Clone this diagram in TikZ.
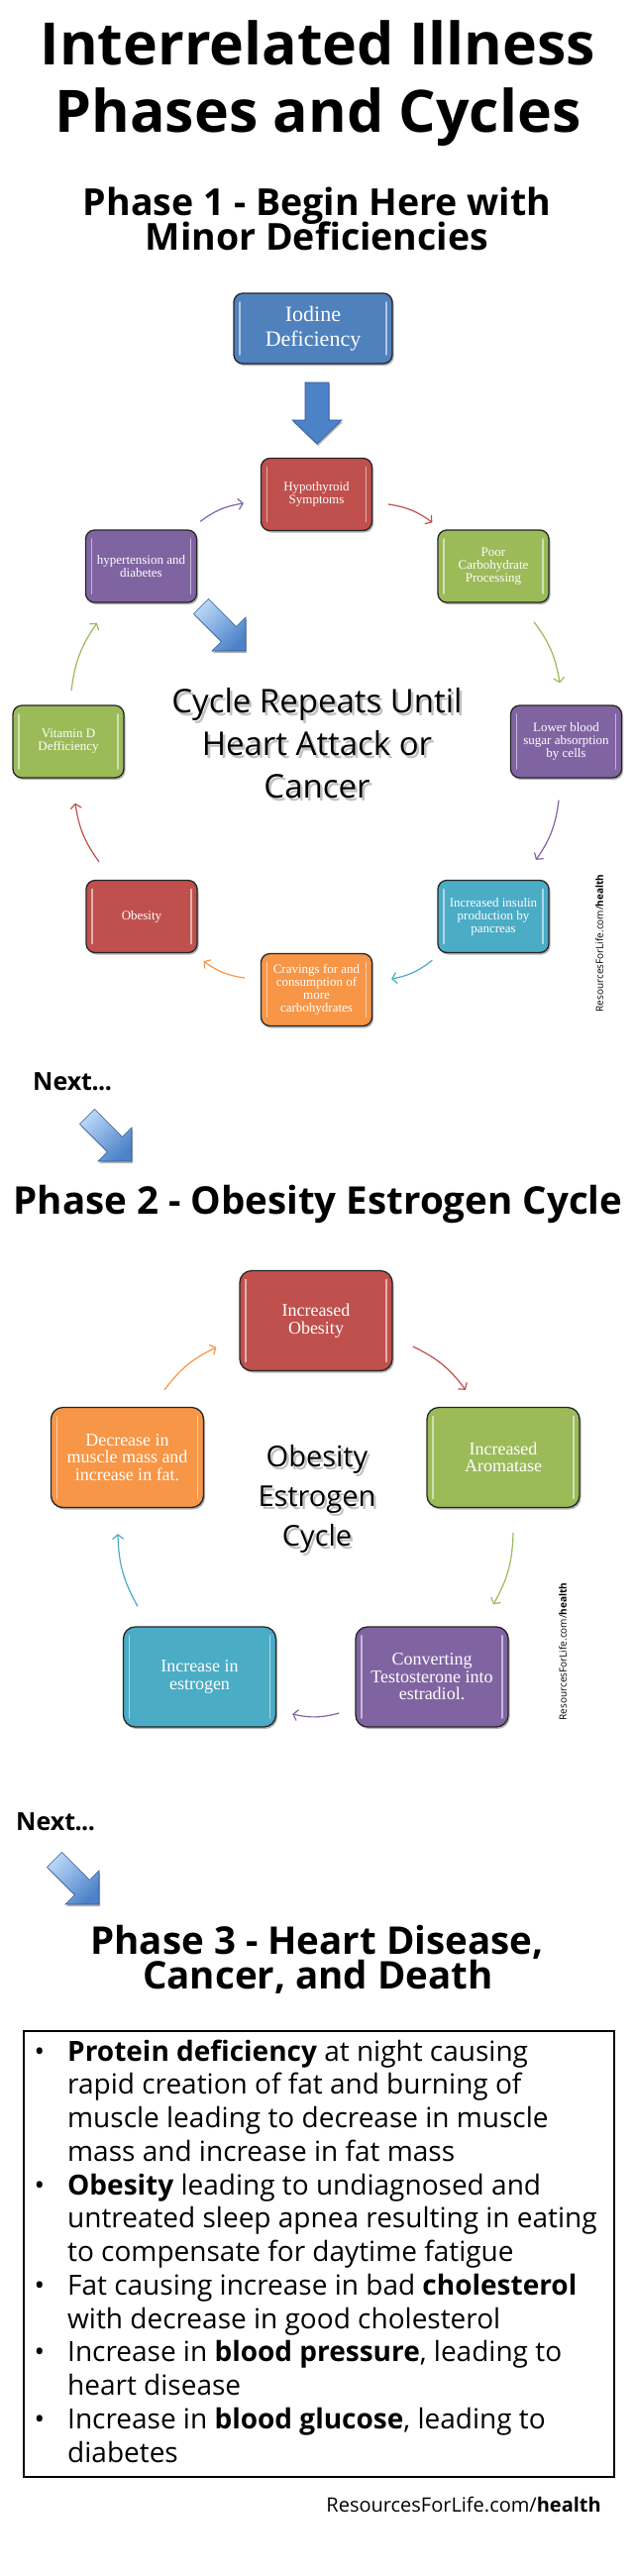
\documentclass[tikz,border=0pt]{standalone}
\usepackage{fontspec}
\setmainfont{Open Sans}
\newfontfamily\boxfont{Liberation Serif}
\usetikzlibrary{arrows.meta,shadows,calc}
\definecolor{oblue}{HTML}{4F81BD}
\definecolor{ored}{HTML}{C0504D}
\definecolor{ogreen}{HTML}{9BBB59}
\definecolor{opurple}{HTML}{8064A2}
\definecolor{oaqua}{HTML}{4BACC6}
\definecolor{oorange}{HTML}{F79646}
\definecolor{arrlight}{HTML}{B8D6F7}
\definecolor{arrdark}{HTML}{4C82C8}
\definecolor{arredge}{HTML}{2E5A93}
\newcommand{\myfs}[2]{\fontsize{#1}{#2}\selectfont}
\tikzset{
  cbox/.style={draw=black!85, line width=1.3pt, rounded corners=9pt, text=white,
    align=center, inner sep=1pt,
    drop shadow={shadow xshift=1.5pt, shadow yshift=-2pt, opacity=0.3, fill=black},
    path picture={
      \draw[white, opacity=0.55, line width=1.6pt, line cap=round]
        ([xshift=6pt,yshift=-9pt]path picture bounding box.north west) --
        ([xshift=6pt,yshift=9pt]path picture bounding box.south west);
      \draw[white, opacity=0.55, line width=1.6pt, line cap=round]
        ([xshift=-6pt,yshift=-9pt]path picture bounding box.north east) --
        ([xshift=-6pt,yshift=9pt]path picture bounding box.south east);}},
  smallbox/.style={cbox, minimum width=112pt, minimum height=73pt, font=\boxfont\myfs{13}{13}},
  bigbox/.style={cbox, minimum width=154pt, minimum height=101pt, rounded corners=12pt, font=\boxfont\myfs{18}{17.5}},
  carr/.style={-{Straight Barb[length=4.5pt,width=11pt]}, line width=1.2pt, bend left=14},
  blockarr/.style={draw=arredge, line width=0.6pt,
    drop shadow={shadow xshift=1pt, shadow yshift=-2pt, opacity=0.3, fill=black}},
  heading/.style={font=\bfseries\myfs{37.5}{40}, inner sep=0, anchor=base},
  bl/.style={font=\myfs{28}{33}, inner sep=0, anchor=base west},
  bul/.style={font=\myfs{28}{33}, inner sep=0, anchor=base},
  cyctext/.style={font=\myfs{33}{43}, align=center, inner sep=0},
  nexttext/.style={font=\bfseries\myfs{25}{30}, inner sep=0, anchor=base west},
}
\newcommand{\diagblock}[2]{%
  \begin{scope}[shift={(#1,#2)}]
    \path[blockarr, top color=arrlight, bottom color=arrdark, shading angle=45]
      (-37.5,-52.5) -- (-9.5,-24.5) -- (0,-34) -- (0,0) -- (-34,0) -- (-24.5,-9.5) -- (-52.5,-37.5) -- cycle;
  \end{scope}}
\newcommand{\nextdots}{Next\kern-0.5pt.\kern-0.5pt.\kern-0.5pt.}
\begin{document}
\begin{tikzpicture}[x=1pt,y=-1pt]
\useasboundingbox (0,0) rectangle (640,2600);
\fill[white] (0,0) rectangle (640,2600);

% ---------- titles ----------
\node[font=\bfseries\myfs{59}{60}, inner sep=0, anchor=base] (t1) at (321,65) {Interrelated Illness};
\node[font=\bfseries\myfs{59}{60}, inner sep=0, anchor=base] (t2) at (321,133) {Phases and Cycles};
\node[heading] (p1a) at (320,217) {Phase 1 - Begin Here with};
\node[heading] (p1b) at (320,252) {Minor Deficiencies};

% ---------- phase 1 ----------
\node[cbox, fill=oblue, minimum width=160pt, minimum height=71pt, font=\boxfont\myfs{22}{25}] (iod) at (316,331.5) {Iodine\\Deficiency};
\path[blockarr, left color=arrdark, middle color=arrlight, right color=arrdark]
  (308,386) -- (332,386) -- (332,424) -- (345,424) -- (320,448) -- (295,424) -- (308,424) -- cycle;

\node[smallbox, fill=ored] (hypo) at (319.5,499) {Hypothyroid\\Symptoms};
\node[smallbox, fill=ogreen] (poor) at (498,571.5) {Poor\\Carbohydrate\\Processing};
\node[smallbox, fill=opurple] (hyper) at (142.5,571.5) {hypertension and\\diabetes};
\node[smallbox, fill=ogreen] (vitd) at (69,748.5) {Vitamin D\\Defficiency};
\node[smallbox, fill=opurple] (lower) at (571.5,748.5) {Lower blood\\sugar absorption\\by cells};
\node[smallbox, fill=ored] (obes) at (143,925) {Obesity};
\node[smallbox, fill=oaqua] (insul) at (498,925) {Increased insulin\\production by\\pancreas};
\node[smallbox, fill=oorange] (crav) at (319.5,999) {Cravings for and\\consumption of\\more\\carbohydrates};

\diagblock{248}{657}

\node[cyctext, text=black!40, opacity=0.6] (cycsh) at (322.5,753) {Cycle Repeats Until\\Heart Attack or\\Cancer};
\node[cyctext] (cyc) at (320,750) {Cycle Repeats Until\\Heart Attack or\\Cancer};

\draw[carr, opurple] ($(hyper.north east)+(3,-8)$) to ($(hypo.west)+(-17,9)$);
\draw[carr, ored] ($(hypo.east)+(16,10)$) to ($(poor.north west)+(-5,-7)$);
\draw[carr, ogreen] ($(poor.south)+(41,19)$) to ($(lower.north)+(-6.5,-22)$);
\draw[carr, opurple] ($(lower.south)+(-7.5,22)$) to ($(insul.north)+(43,-20)$);
\draw[carr, oaqua] ($(insul.south west)+(-5,7)$) to ($(crav.east)+(19,-11)$);
\draw[carr, oorange] ($(crav.west)+(-16,-12)$) to ($(obes.south east)+(6,8)$);
\draw[carr, ored] ($(obes.north)+(-43,-18)$) to ($(vitd.south)+(7,25)$);
\draw[carr, ogreen] ($(vitd.north)+(3,-14)$) to ($(hyper.south)+(-44.5,20)$);

\node[rotate=90, font=\myfs{10}{12}, inner sep=0] (wm1) at (605,952) {ResourcesForLife.com/\textbf{health}};

% ---------- next 1 ----------
\node[nexttext] (nx1) at (33,1100) {\nextdots};
\diagblock{133}{1172}

% ---------- phase 2 ----------
\node[heading, font=\bfseries\myfs{38.5}{40}] (p2) at (321,1225) {Phase 2 - Obesity Estrogen Cycle};

\node[bigbox, fill=ored] (iob) at (319,1333) {Increased\\Obesity};
\node[bigbox, fill=ogreen] (arom) at (508,1471) {Increased\\Aromatase};
\node[bigbox, fill=oorange] (dec) at (128.5,1471) {Decrease in\\muscle mass and\\increase in fat.};
\node[bigbox, fill=opurple] (conv) at (436,1692.5) {Converting\\Testosterone into\\estradiol.};
\node[bigbox, fill=oaqua] (est) at (201.5,1692.5) {Increase in\\estrogen};

\node[cyctext, font=\myfs{29}{40}, text=black!40, opacity=0.6] (ocsh) at (322.5,1516) {Obesity\\Estrogen\\Cycle};
\node[cyctext, font=\myfs{29}{40}] (oc) at (320,1513) {Obesity\\Estrogen\\Cycle};

\draw[carr, ored] ($(iob.east)+(20,26)$) to ($(arom.north)+(-38,-17)$);
\draw[carr, ogreen] ($(arom.south)+(10,25)$) to ($(conv.north)+(62,-22)$);
\draw[carr, opurple] ($(conv.west)+(-16,36.5)$) to ($(est.east)+(16,37.5)$);
\draw[carr, oaqua] ($(est.north)+(-62.5,-20)$) to ($(dec.south)+(-9.5,26)$);
\draw[carr, oorange] ($(dec.north)+(37.5,-17)$) to ($(iob.west)+(-23,27)$);

\node[rotate=90, font=\myfs{10}{12}, inner sep=0] (wm2) at (568,1667) {ResourcesForLife.com/\textbf{health}};

% ---------- next 2 ----------
\node[nexttext] (nx2) at (16,1847) {\nextdots};
\diagblock{100}{1922}

% ---------- phase 3 ----------
\node[heading, font=\bfseries\myfs{38.5}{40}] (p3a) at (320,1972) {Phase 3 - Heart Disease,};
\node[heading, font=\bfseries\myfs{38.5}{40}] (p3b) at (321,2007) {Cancer, and Death};

\node[draw, line width=2pt, minimum width=596pt, minimum height=450pt, anchor=north west, inner sep=0] (bbox) at (23,2049) {};

\node[bul] (b1) at (40,2080) {•};
\node[bul] (b2) at (40,2215) {•};
\node[bul] (b3) at (40,2316.25) {•};
\node[bul] (b4) at (40,2383.75) {•};
\node[bul] (b5) at (40,2451.25) {•};

\node[bl] (l1) at (68,2080) {\textbf{Protein deficiency} at night causing};
\node[bl] (l2) at (68,2113.75) {rapid creation of fat and burning of};
\node[bl] (l3) at (68,2147.5) {muscle leading to decrease in muscle};
\node[bl] (l4) at (68,2181.25) {mass and increase in fat mass};
\node[bl] (l5) at (68,2215) {\textbf{Obesity} leading to undiagnosed and};
\node[bl] (l6) at (68,2248.75) {untreated sleep apnea resulting in eating};
\node[bl] (l7) at (68,2282.5) {to compensate for daytime fatigue};
\node[bl] (l8) at (68,2316.25) {Fat causing increase in bad \textbf{cholesterol}};
\node[bl] (l9) at (68,2350) {with decrease in good cholesterol};
\node[bl] (l10) at (68,2383.75) {Increase in \textbf{blood pressure}, leading to};
\node[bl] (l11) at (68,2417.5) {heart disease};
\node[bl] (l12) at (68,2451.25) {Increase in \textbf{blood glucose}, leading to};
\node[bl] (l13) at (68,2485) {diabetes};

\node[font=\myfs{20}{24}, inner sep=0, anchor=base east] (foot) at (607,2535) {ResourcesForLife.com/\textbf{health}};
\end{tikzpicture}
\end{document}
